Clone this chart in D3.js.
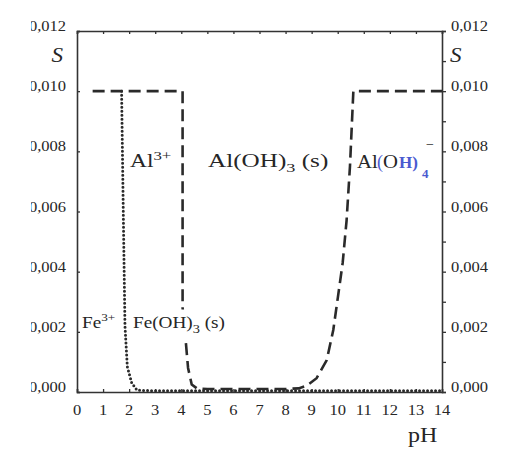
<!DOCTYPE html>
<html>
<head>
<meta charset="utf-8">
<script src="https://cdn.jsdelivr.net/npm/d3@7"></script>
<style>
  body { margin: 0; background: #fff; }
  svg { display: block; }
  text { font-family: "Liberation Serif", "Times New Roman", serif; fill: #262626; }
</style>
</head>
<body>
<svg id="chart" width="509" height="450"></svg>
<script>
// values (pH, solubility S)
var alPH = [0.6, 4.05, 4.05, 4.12, 4.18, 4.26, 4.40, 4.6, 5.0, 6.0, 7.0, 8.0, 8.5, 8.81, 9.19, 9.58, 9.83, 10.01, 10.19, 10.34, 10.47, 10.6, 14];
var alS  = [0.010, 0.010, 0.0028, 0.0022, 0.0016, 0.0008, 0.00025, 0.00012, 0.0001, 0.0001, 0.0001, 0.0001, 0.00012, 0.00021, 0.00046, 0.00106, 0.00206, 0.00317, 0.00429, 0.0057, 0.0075, 0.010, 0.010];
var fePH = [1.71, 1.78, 1.84, 1.93, 2.1, 2.3, 3.0, 14];
var feS  = [0.010, 0.0057, 0.0022, 0.00084, 0.0003, 0.00006, 0.00004, 0.00004];
var pHTicks = [0, 1, 2, 3, 4, 5, 6, 7, 8, 9, 10, 11, 12, 13, 14];
var sTicks = [0, 0.002, 0.004, 0.006, 0.008, 0.010, 0.012];
var sMinor = [0.001, 0.003, 0.005, 0.007, 0.009, 0.011];

var svg = d3.select("#chart");
var L = 77, R = 442, T = 31, B = 392;

var x = d3.scaleLinear().domain([0, 14]).range([L, R]);
var y = d3.scaleLinear().domain([0, 0.012]).range([B, T]);
var fmt = function (d) { return d3.format(".3f")(d).replace(".", ","); };

// frame + ticks
svg.append("g").attr("transform", "translate(0," + B + ")")
  .call(d3.axisBottom(x).tickValues(pHTicks).tickSize(-3).tickFormat(""));
svg.append("g").attr("transform", "translate(0," + T + ")")
  .call(d3.axisTop(x).tickValues(pHTicks).tickSize(-3).tickFormat(""));
svg.append("g").attr("transform", "translate(" + L + ",0)")
  .call(d3.axisLeft(y).tickValues(sTicks).tickSize(-3).tickFormat(""));
svg.append("g").attr("transform", "translate(" + R + ",0)")
  .call(d3.axisRight(y).tickValues(sTicks.concat(sMinor)).tickSize(4).tickFormat(""));
svg.selectAll(".domain").attr("stroke", "#333").attr("stroke-width", 1.6);
svg.selectAll(".tick line").attr("stroke", "#333").attr("stroke-width", 1.3);

function stext(px, py, size, sx, anchor) {
  return svg.append("text")
    .attr("transform", "translate(" + px + "," + py + ") scale(" + sx + ",1)")
    .attr("text-anchor", anchor || "start")
    .style("font-size", size + "px");
}

// tick labels
pHTicks.forEach(function (d) {
  stext(x(d), 415, 15, 1.1, "middle").text(d);
});
sTicks.forEach(function (d) {
  stext(66, y(d), 15, 1.1, "end").text(fmt(d));
  stext(451, y(d), 15, 1.1, "start").text(fmt(d));
});

// axis titles
stext(63, 62, 22, 1.05, "end").style("font-style", "italic").text("S");
stext(450, 62, 22, 1.05, "start").style("font-style", "italic").text("S");
stext(408, 442, 20, 1.2, "start").text("pH");

// curves
var line = d3.line().x(function (d) { return x(d[0]); }).y(function (d) { return y(d[1]); });
var alData = alPH.map(function (p, i) { return [p, alS[i]]; });
var feData = fePH.map(function (p, i) { return [p, feS[i]]; });

svg.append("path").datum(feData).attr("d", line)
  .attr("fill", "none").attr("stroke", "#2a2a2a").attr("stroke-width", 3)
  .attr("stroke-linecap", "round").attr("stroke-dasharray", "0,4");
svg.append("path").datum(alData).attr("d", line)
  .attr("fill", "none").attr("stroke", "#2a2a2a").attr("stroke-width", 2.6)
  .attr("stroke-dasharray", "12,6");

// species labels
var t1 = stext(130, 167, 18, 1.3);
t1.append("tspan").text("Al");
t1.append("tspan").attr("dy", -7).style("font-size", "13px").text("3+");

var t2 = stext(208, 167, 18, 1.4);
t2.append("tspan").text("Al(OH)");
t2.append("tspan").attr("dy", 5).style("font-size", "13px").text("3");
t2.append("tspan").attr("dy", -5).text(" (s)");

// AlO + hand-written (H)4 correction
var blue = "#4a5ad0";
stext(357, 168, 18, 1.15).text("Al");
stext(377, 168, 18, 1.0).style("fill", blue).text("(");
stext(383, 168, 18, 1.15).text("O");
stext(399, 168, 17, 1.0).style("fill", blue).style("font-weight", "bold").text("H)");
stext(422, 178, 13, 1.0).style("fill", blue).style("font-weight", "bold").text("4");
stext(426, 149, 14, 1.0).text("−");

var t4 = stext(82, 328, 16, 1.2);
t4.append("tspan").text("Fe");
t4.append("tspan").attr("dy", -7).style("font-size", "11px").text("3+");

var t5 = stext(133, 328, 16, 1.2);
t5.append("tspan").text("Fe(OH)");
t5.append("tspan").attr("dy", 5).style("font-size", "12px").text("3");
t5.append("tspan").attr("dy", -5).text(" (s)");

// the label knocks out the dashed line behind it
var bb = t5.node().getBBox();
svg.insert("rect", function () { return t5.node(); })
  .attr("x", 133 + bb.x * 1.2 + 40).attr("y", 328 + bb.y - 4)
  .attr("width", bb.width * 1.2 - 40).attr("height", bb.height + 8)
  .attr("fill", "#fff");

// the scan is cropped on the left edge
svg.append("rect").attr("x", 0).attr("y", 0).attr("width", 31).attr("height", 450).attr("fill", "#fff");
</script>
</body>
</html>
